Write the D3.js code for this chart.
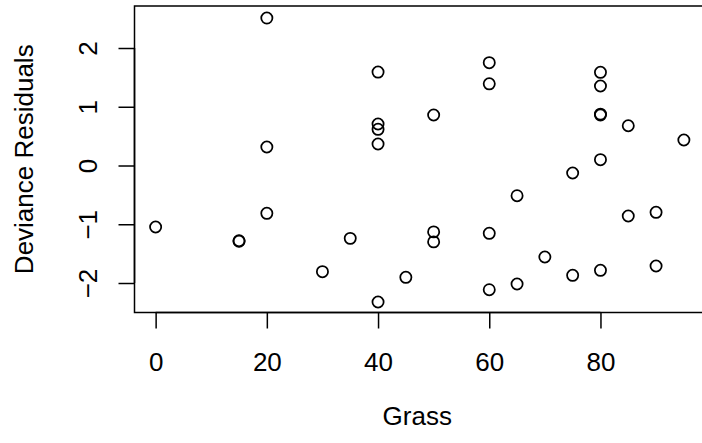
<!DOCTYPE html>
<html>
<head>
<meta charset="utf-8">
<script src="https://cdn.jsdelivr.net/npm/d3@7"></script>
<style>
  html, body { margin: 0; padding: 0; background: #fff; }
  svg { display: block; }
  text { font-family: "Liberation Sans", Arial, Helvetica, sans-serif; fill: #000; }
</style>
</head>
<body>
<svg id="chart" width="702" height="443"></svg>
<script>
// Data
const grass = [0, 15, 15, 20, 20, 20, 30, 35, 40, 40, 40, 40, 40, 45, 50, 50, 50,
               60, 60, 60, 60, 65, 65, 70, 75, 75, 80, 80, 80, 80, 80, 80, 85, 85, 90, 90, 95];
const devianceResiduals = [-1.047, -1.28, -1.29, 2.51, 0.315, -0.814, -1.807, -1.24, 1.59, 0.706, 0.616, 0.366, -2.323, -1.903, 0.86, -1.13, -1.30,
               1.75, 1.39, -1.154, -2.114, -0.514, -2.017, -1.557, -0.128, -1.869, 1.586, 1.353, 0.875, 0.86, 0.099, -1.784, 0.677, -0.86, -0.797, -1.711, 0.434];
const xTicks = [0, 20, 40, 60, 80];
const yTicks = [-2, -1, 0, 1, 2];
const xLabel = "Grass";
const yLabel = "Deviance Residuals";

const svg = d3.select("#chart");
const mLeft = 134.5, mRight = 705, mTop = 6, mBottom = 312.5;
const x = d3.scaleLinear().domain([-3.8, 98.8]).range([mLeft, mRight]);
const y = d3.scaleLinear().domain([-2.502, 2.715]).range([mBottom, mTop]);
const fs = 26;

// box
svg.append("rect")
  .attr("x", mLeft).attr("y", mTop)
  .attr("width", mRight - mLeft).attr("height", mBottom - mTop)
  .attr("fill", "none").attr("stroke", "#000").attr("stroke-width", 1.5);

// x axis
const xAxis = svg.append("g").attr("transform", `translate(0,${mBottom})`)
  .call(d3.axisBottom(x).tickValues(xTicks).tickSize(16).tickSizeOuter(0).tickPadding(0));
xAxis.select(".domain").attr("d", `M${x(xTicks[0])},0H${x(xTicks[xTicks.length-1])}`).attr("stroke-width", 1.5);
xAxis.selectAll(".tick line").attr("stroke-width", 1.5);
xAxis.selectAll(".tick text").attr("font-size", fs).attr("y", 58).attr("dy", null)
  .style("font-family", "'Liberation Sans', Arial, sans-serif");

// y axis
const yAxis = svg.append("g").attr("transform", `translate(${mLeft},0)`)
  .call(d3.axisLeft(y).tickValues(yTicks).tickSize(16).tickSizeOuter(0)
    .tickFormat(d => d < 0 ? "\u2212" + Math.abs(d) : String(d)));
yAxis.select(".domain").attr("d", `M0,${y(yTicks[0])}V${y(yTicks[yTicks.length-1])}`).attr("stroke-width", 1.5);
yAxis.selectAll(".tick line").attr("stroke-width", 1.5);
yAxis.selectAll(".tick text")
  .attr("font-size", fs)
  .attr("x", null).attr("dy", null)
  .attr("text-anchor", "middle")
  .attr("transform", `translate(${97 - mLeft},0) rotate(-90)`)
  .style("font-family", "'Liberation Sans', Arial, sans-serif");

// axis titles
svg.append("text").attr("x", (mLeft + 702) / 2 - 1).attr("y", 425)
  .attr("text-anchor", "middle").attr("font-size", fs).text(xLabel);
svg.append("text").attr("transform", `translate(33,${(mTop + mBottom) / 2}) rotate(-90)`)
  .attr("text-anchor", "middle").attr("font-size", fs).text(yLabel);

// points
svg.append("g").selectAll("circle")
  .data(grass.map((g, i) => ({ g, r: devianceResiduals[i] })))
  .join("circle")
  .attr("cx", d => x(d.g)).attr("cy", d => y(d.r))
  .attr("r", 5.6)
  .attr("fill", "none").attr("stroke", "#000").attr("stroke-width", 1.75);
</script>
</body>
</html>
